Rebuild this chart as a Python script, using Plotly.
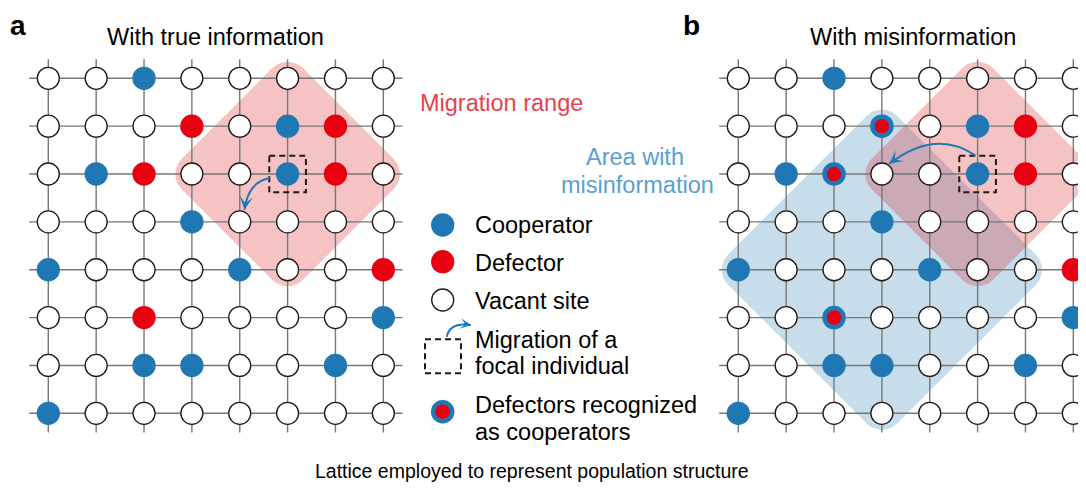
import numpy as np
import plotly.graph_objects as go

# canvas and lattice geometry (screen pixels)
W, H = 1086, 489
OFF = 8              # page body margin that the figure sits in
S = 47.86            # px between neighbouring sites
X0, Y0 = 48.3, 78.3  # pixel position of site (0, 0) in panel a
B_DX = 690 / S       # panel b offset in lattice units

# lattice states, row 0 at the top: V vacant, C cooperator, D defector
LATTICE = [
    "VVCVVVVV",
    "VVVDVCDV",
    "VCDVVCDV",
    "VVVCVVVV",
    "CVVVCVVD",
    "VVDVVVVC",
    "VVCCVVCV",
    "CVVVVVVV",
]
# defectors seen as cooperators in panel b (row, col)
RECOGNIZED_B = [(1, 3), (2, 2), (5, 2)]
FOCAL = (2, 5)
MIGRATION_REACH = 2
MISINFO_CENTER = (4, 3)
MISINFO_REACH = 3

LEGEND_LABELS = ["Cooperator", "Defector", "Vacant site",
                 "Migration of a", "focal individual",
                 "Defectors recognized", "as cooperators"]

BLUE = "#1f77b4"
RED = "#e60012"
INK = "#231815"
GRID = "#777777"
FONT = "Liberation Sans, Arial, sans-serif"

PAD = 0.345     # diamond padding beyond the outermost sites
CORNER = 0.45   # corner rounding radius


def ux(px):
    return (px - X0) / S


def uy(py):
    return (py - Y0) / S


def rounded_diamond(cx, cy, reach):
    d = reach + PAD - CORNER
    xs, ys = [], []
    for k, (vx, vy) in enumerate([(d, 0), (0, d), (-d, 0), (0, -d)]):
        a0 = -np.pi / 4 + k * np.pi / 2
        t = np.linspace(a0, a0 + np.pi / 2, 20)
        xs += list(cx + vx + CORNER * np.cos(t))
        ys += list(cy + vy + CORNER * np.sin(t))
    return xs + xs[:1], ys + ys[:1]


def site_groups(dx, recognized):
    groups = {k: ([], []) for k in "VCDR"}
    for r, row in enumerate(LATTICE):
        for c, s in enumerate(row):
            if (r, c) in recognized:
                s = "R"
            groups[s][0].append(c + dx)
            groups[s][1].append(r)
    return groups


def grid_xy(dx, n=8, ext=0.4):
    xs, ys = [], []
    for i in range(n):
        xs += [dx - ext, dx + n - 1 + ext, None]
        ys += [i, i, None]
        xs += [dx + i, dx + i, None]
        ys += [-ext, n - 1 + ext, None]
    return xs, ys


STYLE = {
    "V": dict(size=22, color="white", line=dict(color=INK, width=1.3)),
    "C": dict(size=23.3, color=BLUE, line=dict(width=0)),
    "D": dict(size=23.3, color=RED, line=dict(width=0)),
    "R": dict(size=19, color=RED, line=dict(color=BLUE, width=4.5)),
}

fig = go.Figure()

# shaded areas
mx, my = rounded_diamond(MISINFO_CENTER[1] + B_DX, MISINFO_CENTER[0], MISINFO_REACH)
fig.add_trace(go.Scatter(x=mx, y=my, mode="lines", fill="toself", line=dict(width=0),
                         fillcolor="rgba(31,119,180,0.25)", hoverinfo="skip"))
for dx in (0, B_DX):
    rx, ry = rounded_diamond(FOCAL[1] + dx, FOCAL[0], MIGRATION_REACH)
    fig.add_trace(go.Scatter(x=rx, y=ry, mode="lines", fill="toself", line=dict(width=0),
                             fillcolor="rgba(215,15,15,0.25)", hoverinfo="skip"))

# lattice lines
for dx in (0, B_DX):
    gx, gy = grid_xy(dx)
    fig.add_trace(go.Scatter(x=gx, y=gy, mode="lines", line=dict(color=GRID, width=1.4),
                             hoverinfo="skip"))

# sites
for dx, rec in ((0, []), (B_DX, RECOGNIZED_B)):
    groups = site_groups(dx, rec)
    for k, (xs, ys) in groups.items():
        if xs:
            fig.add_trace(go.Scatter(x=xs, y=ys, mode="markers", marker=STYLE[k],
                                     hoverinfo="skip"))

# legend samples
leg_x = ux(442.7)
for k, py in (("C", 225), ("D", 261.7), ("V", 300), ("R", 411.7)):
    fig.add_trace(go.Scatter(x=[leg_x], y=[uy(py)], mode="markers", marker=STYLE[k],
                             hoverinfo="skip"))

shapes = []
annotations = []

# focal dashed boxes
half = 0.383
for dx in (0, B_DX):
    fx, fy = FOCAL[1] + dx, FOCAL[0]
    shapes.append(dict(type="rect", xref="x", yref="y", x0=fx - half, x1=fx + half,
                       y0=fy - half, y1=fy + half,
                       line=dict(color=INK, width=2, dash="6px,4px")))
shapes.append(dict(type="rect", xref="x", yref="y", x0=ux(425), x1=ux(461),
                   y0=uy(339.3), y1=uy(373.3),
                   line=dict(color=INK, width=2, dash="6px,4px")))


def curved_arrow(p0, p1, p2, head=1.1):
    path = f"M {p0[0]},{p0[1]} Q {p1[0]},{p1[1]} {p2[0]},{p2[1]}"
    shapes.append(dict(type="path", xref="x", yref="y", path=path,
                       line=dict(color=BLUE, width=2)))
    v = np.array(p2) - np.array(p1)
    v = v / np.hypot(*v)
    tail = np.array(p2) - 0.18 * v
    annotations.append(dict(x=p2[0], y=p2[1], ax=tail[0], ay=tail[1], xref="x", yref="y",
                            axref="x", ayref="y", text="", showarrow=True, arrowhead=3,
                            arrowsize=head, arrowwidth=2, arrowcolor=BLUE, standoff=0))


ARROW_A = [(-0.361, 0.084), (-0.821, 0.153), (-0.901, 0.746)]
ARROW_B = [(-0.048, -0.391), (-0.884, -0.955), (-1.845, -0.213)]
for dx, pts in ((0, ARROW_A), (B_DX, ARROW_B)):
    fx, fy = FOCAL[1] + dx, FOCAL[0]
    curved_arrow(*[(fx + a, fy + b) for a, b in pts])
curved_arrow((ux(446.7), uy(336.7)), (ux(450), uy(322)), (ux(471), uy(325)), head=0.9)


def text(s, px, py, size=23.5, color="black", anchor="center"):
    # paper coordinates so that texts near the edges are never hidden
    annotations.append(dict(text=s, x=(px - OFF) / (W - OFF), y=1 - (py - OFF) / (H - OFF),
                            xref="paper", yref="paper",
                            xanchor=anchor, yanchor="middle", showarrow=False,
                            font=dict(family=FONT, size=size, color=color)))


# panel letters hang from the top edge
for letter, px in (("a", 8), ("b", 681)):
    annotations.append(dict(text=f"<b>{letter}</b>", x=(px - OFF) / (W - OFF), y=1,
                            xref="paper", yref="paper", xanchor="left", yanchor="top",
                            showarrow=False, font=dict(family=FONT, size=28, color="black")))

text("With true information", 215, 37)
text("With misinformation", 912.5, 37)
text("Migration range", 501.7, 103, color="#e8414f")
text("Area with", 634.5, 157, color="#5a9fd0")
text("misinformation", 637.5, 185, color="#5a9fd0")
for label, py in zip(LEGEND_LABELS, [225.5, 262.5, 300.5, 340, 366, 405, 431.5]):
    text(label, 472.7, py, anchor="left")
text("Lattice employed to represent population structure", 531.5, 471, size=19.5)

fig.update_layout(
    width=W - OFF, height=H - OFF,
    margin=dict(l=0, r=0, t=0, b=0),
    paper_bgcolor="white", plot_bgcolor="white",
    showlegend=False,
    xaxis=dict(range=[ux(OFF), ux(W)], visible=False, fixedrange=True),
    yaxis=dict(range=[uy(H), uy(OFF)], visible=False, fixedrange=True),
    shapes=shapes,
    annotations=annotations,
)

fig.write_html("out.html")
